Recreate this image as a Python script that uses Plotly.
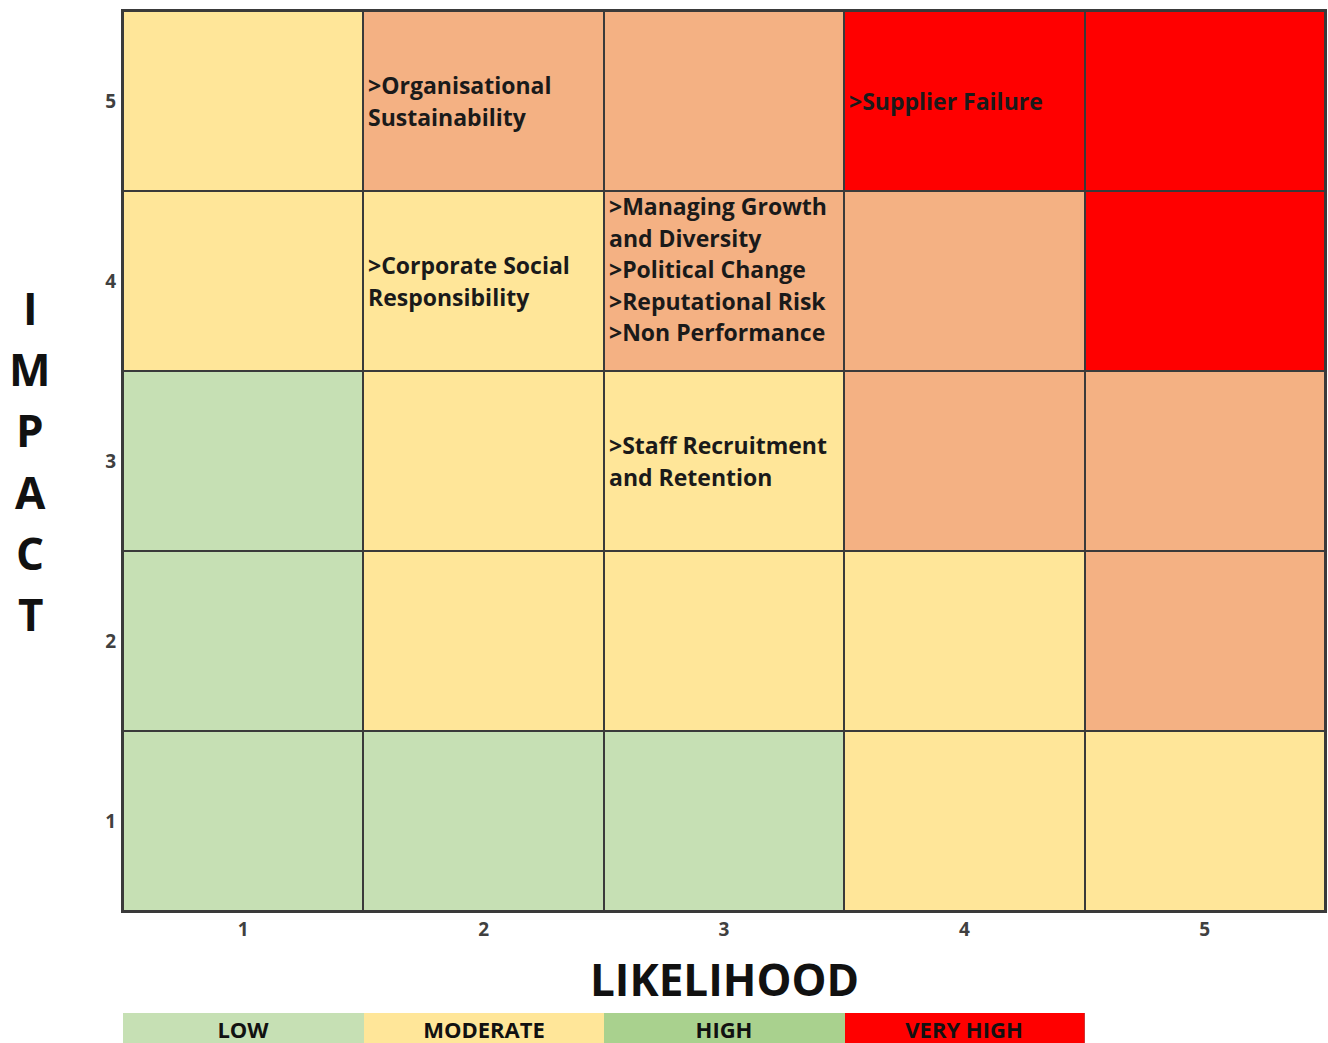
import plotly.graph_objects as go

# ---------------- data ----------------
likelihood = [1, 2, 3, 4, 5]
impact = [1, 2, 3, 4, 5]
# risk level of each cell, rows = impact 1..5, columns = likelihood 1..5
# 0 = low, 1 = moderate, 2 = high, 3 = very high
risk_level = [
    [0, 0, 0, 1, 1],
    [0, 1, 1, 1, 2],
    [0, 1, 1, 2, 2],
    [1, 1, 2, 2, 3],
    [1, 2, 2, 3, 3],
]
level_colors = ["#C6E0B4", "#FFE699", "#F4B183", "#FF0000"]

# risks placed in the matrix
risk_likelihood = [2, 4, 2, 3, 3]
risk_impact = [5, 5, 4, 4, 3]
risk_text = [
    [">Organisational", "Sustainability"],
    [">Supplier Failure"],
    [">Corporate Social", "Responsibility"],
    [">Managing Growth", "and Diversity", ">Political Change",
     ">Reputational Risk", ">Non Performance"],
    [">Staff Recruitment", "and Retention"],
]

legend_labels = ["LOW", "MODERATE", "HIGH", "VERY HIGH"]
legend_colors = ["#C6E0B4", "#FFE699", "#A9D18E", "#FF0000"]

x_title = "LIKELIHOOD"
y_title = "IMPACT"

# ---------------- figure ----------------
W, H = 1328, 1043
M_L, M_R, M_T, M_B = 123, 3, 11, 0
PLOT_H = H - M_T - M_B
main_bottom_px = 911
legend_top_px = 1013
border = "#3A3A3A"
FONT = "Open Sans"


def step_scale(colors):
    n = len(colors)
    sc = []
    for i, c in enumerate(colors):
        sc.append([i / n, c])
        sc.append([(i + 1) / n, c])
    return sc


fig = go.Figure()

fig.add_trace(go.Heatmap(
    x=likelihood, y=impact, z=risk_level,
    colorscale=step_scale(level_colors), zmin=-0.5, zmax=len(level_colors) - 0.5,
    showscale=False, xgap=2, ygap=2, hoverinfo="skip",
))

fig.add_trace(go.Heatmap(
    x=list(range(1, len(legend_labels) + 1)), y=[1],
    z=[list(range(len(legend_labels)))],
    text=[legend_labels], texttemplate="%{text}",
    textfont=dict(family=FONT, size=22, color="#111111", weight="bold"),
    colorscale=step_scale(legend_colors), zmin=-0.5, zmax=len(legend_colors) - 0.5,
    showscale=False, xaxis="x2", yaxis="y2", hoverinfo="skip",
))

annotations = []
LINE = 31.5
for lx, iy, lines in zip(risk_likelihood, risk_impact, risk_text):
    n = len(lines)
    extra = 12 if n > 3 else 0
    for i, line in enumerate(lines):
        annotations.append(dict(
            x=lx - 0.5, y=iy, xref="x", yref="y",
            xanchor="left", yanchor="middle", xshift=3,
            yshift=((n - 1) / 2 - i) * LINE + extra,
            text=line, showarrow=False,
            font=dict(family=FONT, size=23, color="#1A1A1A", weight="bold"),
        ))

annotations.append(dict(
    x=3, y=(H - 979) / PLOT_H, xref="x", yref="paper",
    xanchor="center", yanchor="middle", text=x_title, showarrow=False,
    font=dict(family=FONT, size=44, color="#111111", weight="bold"),
))

center_px = (M_T + main_bottom_px) / 2
SP = 61.2
n = len(y_title)
for i, ch in enumerate(y_title):
    ypx = center_px + (i - (n - 1) / 2) * SP
    annotations.append(dict(
        x=(30 - M_L) / (W - M_L - M_R), y=(H - ypx) / PLOT_H,
        xref="paper", yref="paper", xanchor="center", yanchor="middle",
        text=ch, showarrow=False,
        font=dict(family=FONT, size=44, color="#111111", weight="bold"),
    ))

tickfont = dict(family=FONT, size=19, color="#404040", weight="bold")

fig.update_layout(
    width=W, height=H,
    margin=dict(l=M_L, r=M_R, t=M_T, b=M_B, pad=0),
    paper_bgcolor="white", plot_bgcolor=border,
    showlegend=False,
    annotations=annotations,
    xaxis=dict(
        range=[0.5, 5.5], tickvals=likelihood, ticks="", showgrid=False,
        zeroline=False, showline=True, linecolor=border, linewidth=2, mirror=True,
        tickfont=tickfont, ticklabelstandoff=0, anchor="y", domain=[0, 1],
    ),
    yaxis=dict(
        range=[0.5, 5.5], tickvals=impact, ticks="", showgrid=False,
        zeroline=False, showline=True, linecolor=border, linewidth=2, mirror=True,
        tickfont=tickfont, ticklabelstandoff=1, anchor="x",
        domain=[(H - main_bottom_px) / PLOT_H, 1],
    ),
    xaxis2=dict(
        range=[0.5, len(legend_labels) + 0.5], visible=False, anchor="y2",
        domain=[0, len(legend_labels) / len(likelihood)],
    ),
    yaxis2=dict(
        range=[0.62, 1.5], visible=False, anchor="x2",
        domain=[0, (H - legend_top_px) / PLOT_H],
    ),
)

fig.write_html("out.html")
